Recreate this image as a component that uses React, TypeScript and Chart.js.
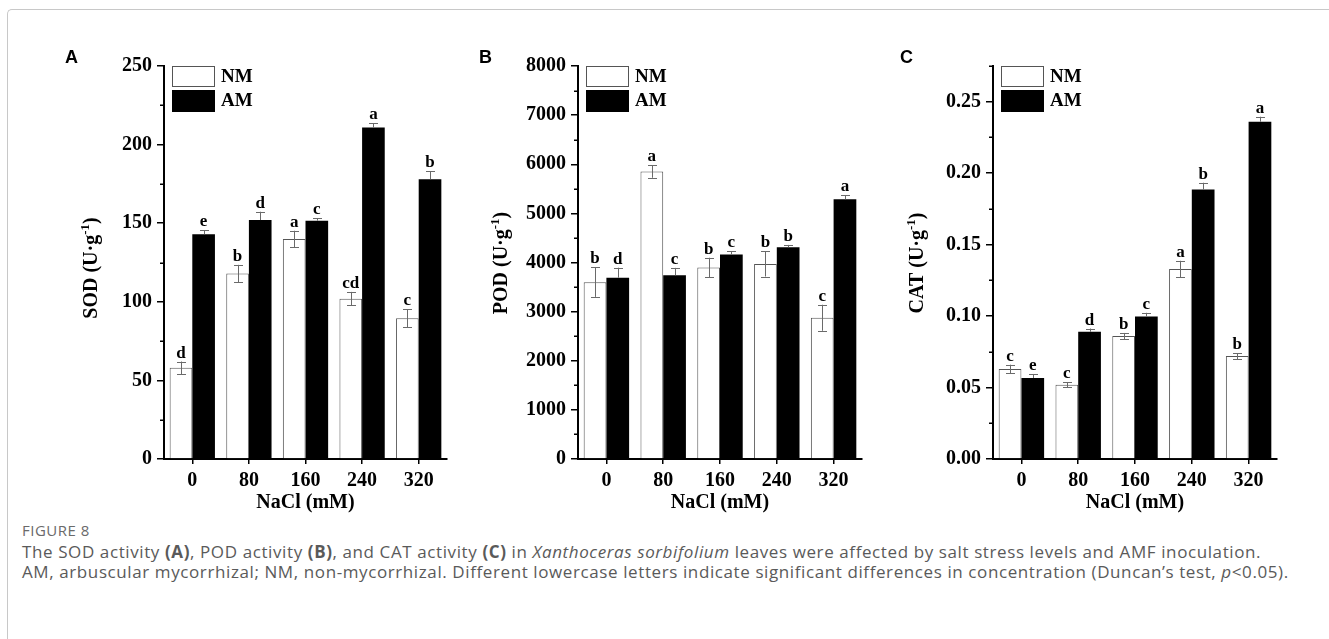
import React, { useEffect, useRef } from 'react';
import { Chart, registerables } from 'chart.js';

Chart.register(...registerables);

// ---------- data ----------
const categories = ['0', '80', '160', '240', '320'];
const seriesNames = ['NM', 'AM'];

const sodNM = [58, 118, 140, 102, 89.5];
const sodNMErr = [4, 5.5, 5.2, 4.3, 5.7];
const sodAM = [143, 152, 151.6, 210.8, 178];
const sodAMErr = [2.5, 5.3, 1.5, 2.8, 4.9];
const sodNMLetters = ['d', 'b', 'a', 'cd', 'c'];
const sodAMLetters = ['e', 'd', 'c', 'a', 'b'];

const podNM = [3600, 5850, 3900, 3970, 2875];
const podNMErr = [300, 125, 197, 255, 265];
const podAM = [3690, 3740, 4165, 4310, 5285];
const podAMErr = [204, 150, 68, 48, 88];
const podNMLetters = ['b', 'a', 'b', 'b', 'c'];
const podAMLetters = ['d', 'c', 'c', 'b', 'a'];

const catNM = [0.063, 0.052, 0.086, 0.133, 0.072];
const catNMErr = [0.003, 0.0018, 0.0022, 0.0057, 0.0021];
const catAM = [0.0567, 0.089, 0.0997, 0.1886, 0.236];
const catAMErr = [0.0028, 0.0023, 0.0026, 0.0047, 0.0035];
const catNMLetters = ['c', 'c', 'b', 'a', 'b'];
const catAMLetters = ['e', 'd', 'c', 'b', 'a'];

const xTitle = 'NaCl (mM)';

// ---------- layout ----------
const Y_W = 120;
const TOP_PAD = 46;
const PLOT_H = 393;
const X_H = 61;
const RIGHT_PAD = 20;
const CANVAS_H = TOP_PAD + PLOT_H + X_H;
const PLOT_TOP = 66;

const SERIF = '"Liberation Serif", "Times New Roman", serif';

type PanelCfg = {
  letter: string;
  letterX: number;
  yName: string;
  plotLeft: number;
  plotW: number;
  max: number;
  step: number;
  minor: number;
  decimals: number;
  nm: number[];
  am: number[];
  nmErr: number[];
  amErr: number[];
  nmLetters: string[];
  amLetters: string[];
  titleOffset: number;
  titleCY: number;
};

const panels: PanelCfg[] = [
  {
    letter: 'A', letterX: 65, yName: 'SOD', plotLeft: 164, plotW: 283,
    max: 250, step: 50, minor: 25, decimals: 0,
    nm: sodNM, am: sodAM, nmErr: sodNMErr, amErr: sodAMErr,
    nmLetters: sodNMLetters, amLetters: sodAMLetters, titleOffset: 67, titleCY: 268,
  },
  {
    letter: 'B', letterX: 479, yName: 'POD', plotLeft: 578, plotW: 284,
    max: 8000, step: 1000, minor: 500, decimals: 0,
    nm: podNM, am: podAM, nmErr: podNMErr, amErr: podAMErr,
    nmLetters: podNMLetters, amLetters: podAMLetters, titleOffset: 71, titleCY: 263,
  },
  {
    letter: 'C', letterX: 900, yName: 'CAT', plotLeft: 993, plotW: 284,
    max: 0.275, step: 0.05, minor: 0.025, decimals: 2,
    nm: catNM, am: catAM, nmErr: catNMErr, amErr: catAMErr,
    nmLetters: catNMLetters, amLetters: catAMLetters, titleOffset: 70, titleCY: 263,
  },
];

function isMultiple(v: number, step: number) {
  const r = v / step;
  return Math.abs(r - Math.round(r)) < 1e-6;
}

function PanelChart({ cfg }: { cfg: PanelCfg }) {
  const ref = useRef<HTMLCanvasElement>(null);
  const canvasLeft = cfg.plotLeft - Y_W;
  const canvasTop = PLOT_TOP - TOP_PAD;
  const canvasW = Y_W + cfg.plotW + RIGHT_PAD;

  useEffect(() => {
    const overlay = {
      id: 'overlay' + cfg.letter,
      afterDraw(chart: any) {
        const { ctx, chartArea, scales } = chart;
        const y = scales.y;
        const px = (v: number) => v - canvasLeft;
        const py = (v: number) => v - canvasTop;
        ctx.save();

        // minor ticks
        ctx.strokeStyle = '#000';
        ctx.lineWidth = 1.5;
        const n = Math.round(cfg.max / cfg.minor);
        for (let k = 1; k <= n; k++) {
          const v = k * cfg.minor;
          if (isMultiple(v, cfg.step)) continue;
          const yy = Math.round(y.getPixelForValue(v)) + 0.25;
          ctx.beginPath();
          ctx.moveTo(chartArea.left - 4, yy);
          ctx.lineTo(chartArea.left, yy);
          ctx.stroke();
        }

        // error bars and letters
        const errs = [cfg.nmErr, cfg.amErr];
        const letters = [cfg.nmLetters, cfg.amLetters];
        chart.data.datasets.forEach((ds: any, di: number) => {
          const meta = chart.getDatasetMeta(di);
          meta.data.forEach((bar: any, i: number) => {
            const v = ds.data[i];
            const e = errs[di][i];
            const cx = Math.round(bar.x) + 0.5;
            const top = y.getPixelForValue(v + e);
            const bottom = di === 0 ? y.getPixelForValue(v - e) : y.getPixelForValue(v);
            ctx.strokeStyle = '#6a6a6a';
            ctx.lineWidth = 1;
            ctx.beginPath();
            ctx.moveTo(cx, top);
            ctx.lineTo(cx, bottom);
            ctx.moveTo(cx - 4.5, Math.round(top) + 0.5);
            ctx.lineTo(cx + 4.5, Math.round(top) + 0.5);
            if (di === 0) {
              ctx.moveTo(cx - 4.5, Math.round(bottom) + 0.5);
              ctx.lineTo(cx + 4.5, Math.round(bottom) + 0.5);
            }
            ctx.stroke();
            ctx.fillStyle = '#000';
            ctx.font = `bold 17px ${SERIF}`;
            ctx.textAlign = 'center';
            ctx.textBaseline = 'alphabetic';
            ctx.fillText(letters[di][i], bar.x, top - 4);
          });
        });

        // legend
        const lx = chartArea.left + 8;
        const ly = chartArea.top;
        const bw = 43;
        const bh = 21;
        ctx.fillStyle = '#fff';
        ctx.fillRect(lx, ly, bw, bh);
        ctx.strokeStyle = '#555';
        ctx.lineWidth = 1;
        ctx.strokeRect(lx + 0.5, ly + 0.5, bw - 1, bh - 1);
        ctx.fillStyle = '#000';
        ctx.fillRect(lx, ly + bh + 3, bw, bh + 1);
        ctx.font = `bold 19px ${SERIF}`;
        ctx.textAlign = 'left';
        ctx.textBaseline = 'middle';
        ctx.fillText(seriesNames[0], lx + bw + 6, ly + bh / 2 + 1);
        ctx.fillText(seriesNames[1], lx + bw + 6, ly + bh + 3 + bh / 2 + 1);

        // panel letter
        ctx.font = `bold 18px "Liberation Sans", Arial, sans-serif`;
        ctx.textAlign = 'left';
        ctx.textBaseline = 'alphabetic';
        ctx.fillText(cfg.letter, px(cfg.letterX), py(63));

        // x title
        ctx.font = `bold 20px ${SERIF}`;
        ctx.textAlign = 'center';
        ctx.textBaseline = 'middle';
        ctx.fillText(xTitle, (chartArea.left + chartArea.right) / 2, py(503));

        // y title with superscript
        const main1 = `${cfg.yName} (U\u00B7g`;
        const sup = '-1';
        const main2 = ')';
        ctx.textBaseline = 'alphabetic';
        ctx.textAlign = 'left';
        ctx.font = `bold 20px ${SERIF}`;
        const w1 = ctx.measureText(main1).width;
        const w3 = ctx.measureText(main2).width;
        ctx.font = `bold 13px ${SERIF}`;
        const w2 = ctx.measureText(sup).width;
        const total = w1 + w2 + w3;
        ctx.translate(chartArea.left - cfg.titleOffset, py(cfg.titleCY));
        ctx.rotate(-Math.PI / 2);
        let tx = -total / 2;
        ctx.font = `bold 20px ${SERIF}`;
        ctx.fillText(main1, tx, 0);
        tx += w1;
        ctx.font = `bold 13px ${SERIF}`;
        ctx.fillText(sup, tx, -8);
        tx += w2;
        ctx.font = `bold 20px ${SERIF}`;
        ctx.fillText(main2, tx, 0);

        ctx.restore();
      },
    };

    const chart = new Chart(ref.current as HTMLCanvasElement, {
      type: 'bar',
      data: {
        labels: categories,
        datasets: [
          {
            label: seriesNames[0],
            data: cfg.nm,
            backgroundColor: '#ffffff',
            borderColor: '#555555',
            borderWidth: 1,
            borderSkipped: 'start',
          },
          {
            label: seriesNames[1],
            data: cfg.am,
            backgroundColor: '#000000',
            borderWidth: 0,
          },
        ],
      },
      options: {
        animation: false,
        responsive: false,
        maintainAspectRatio: false,
        devicePixelRatio: 1,
        layout: { padding: { left: 0, top: TOP_PAD, right: RIGHT_PAD, bottom: 0 } },
        datasets: { bar: { categoryPercentage: 0.8, barPercentage: 1 } },
        plugins: {
          legend: { display: false },
          tooltip: { enabled: false },
          title: { display: false },
        },
        scales: {
          x: {
            type: 'category',
            offset: true,
            grid: {
              display: true,
              drawOnChartArea: false,
              drawTicks: true,
              tickLength: 5,
              offset: false,
              color: '#000',
              lineWidth: 1.5,
            },
            border: { display: true, color: '#000', width: 2 },
            ticks: {
              color: '#000',
              font: { family: SERIF, size: 20, weight: 'bold' },
              padding: 5,
              maxRotation: 0,
              autoSkip: false,
            },
            afterFit: (s: any) => {
              s.height = X_H;
            },
          },
          y: {
            type: 'linear',
            min: 0,
            max: cfg.max,
            grid: {
              display: true,
              drawOnChartArea: false,
              drawTicks: true,
              tickLength: 7,
              color: '#000',
              lineWidth: 1.5,
            },
            border: { display: true, color: '#000', width: 2 },
            ticks: {
              stepSize: cfg.step,
              color: '#000',
              font: { family: SERIF, size: 20, weight: 'bold' },
              padding: 5,
              callback: (v: any) => Number(v).toFixed(cfg.decimals),
            },
            afterBuildTicks: (s: any) => {
              s.ticks = s.ticks.filter((t: any) => isMultiple(t.value, cfg.step));
            },
            afterFit: (s: any) => {
              s.width = Y_W;
            },
          },
        },
      } as any,
      plugins: [overlay],
    });
    return () => chart.destroy();
  }, []);

  return (
    <canvas
      ref={ref}
      width={canvasW}
      height={CANVAS_H}
      style={{
        position: 'absolute',
        left: canvasLeft,
        top: canvasTop,
        width: canvasW,
        height: CANVAS_H,
      }}
    />
  );
}

export default function App() {
  return (
    <div
      style={{
        position: 'absolute',
        left: 0,
        top: 0,
        width: 1329,
        height: 639,
        background: '#fff',
        overflow: 'hidden',
      }}
    >
      <div
        style={{
          position: 'absolute',
          left: 7,
          top: 9,
          width: 1340,
          height: 650,
          borderTop: '1.5px solid #c8c8c8',
          borderLeft: '1.5px solid #c8c8c8',
          borderTopLeftRadius: 5,
          boxSizing: 'border-box',
        }}
      />
      {panels.map((p) => (
        <PanelChart key={p.letter} cfg={p} />
      ))}
      <div
        style={{
          position: 'absolute',
          left: 22,
          top: 520,
          fontFamily: '"Open Sans", sans-serif',
          fontSize: 15,
          color: '#6a6a6a',
          letterSpacing: 0.5,
          whiteSpace: 'nowrap',
        }}
      >
        FIGURE 8
      </div>
      <div
        style={{
          position: 'absolute',
          left: 22,
          top: 542,
          fontFamily: '"Open Sans", sans-serif',
          fontSize: 17,
          lineHeight: '19.5px',
          letterSpacing: 0.6,
          color: '#5a5a5a',
          whiteSpace: 'nowrap',
        }}
      >
        <div>
          The SOD activity <b>(A)</b>, POD activity <b>(B)</b>, and CAT activity <b>(C)</b> in{' '}
          <i>Xanthoceras sorbifolium</i> leaves were affected by salt stress levels and AMF inoculation.
        </div>
        <div>
          AM, arbuscular mycorrhizal; NM, non-mycorrhizal. Different lowercase letters indicate significant
          differences in concentration (Duncan’s test, <i>p</i>&lt;0.05).
        </div>
      </div>
    </div>
  );
}
